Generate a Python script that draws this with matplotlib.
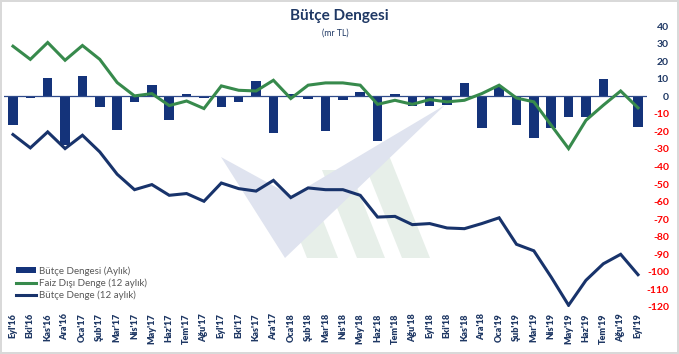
import matplotlib.pyplot as plt
from matplotlib.patches import Polygon, Patch
from matplotlib.lines import Line2D

months = ["Eyl'16", "Eki'16", "Kas'16", "Ara'16", "Oca'17", "Şub'17", "Mar'17", "Nis'17",
          "May'17", "Haz'17", "Tem'17", "Ağu'17", "Eyl'17", "Eki'17", "Kas'17", "Ara'17",
          "Oca'18", "Şub'18", "Mar'18", "Nis'18", "May'18", "Haz'18", "Tem'18", "Ağu'18",
          "Eyl'18", "Eki'18", "Kas'18", "Ara'18", "Oca'19", "Şub'19", "Mar'19", "Nis'19",
          "May'19", "Haz'19", "Tem'19", "Ağu'19", "Eyl'19"]

# monthly budget balance (bars)
aylik = [-16.5, -1, 10.3, -28, 11.6, -6.3, -19, -3, 6.3, -13.3, 1, -1, -6, -3.3, 8.5, -21,
         1, -1.6, -20, -2.3, 2.5, -25.5, 1, -5.3, -5.7, -5, 7.6, -17.8, 5, -16.5, -24, -18,
         -12, -12, 9.7, 0, -17.5]

# primary balance, 12 month rolling
faiz_disi = [28.5, 21, 30.6, 20.5, 28.9, 21, 7.8, 0.2, 1.5, -5.3, -2.7, -7, 5.9, 3.4, 3, 9.1,
             -1.3, 6.3, 7.6, 7.6, 6.3, -4.6, -2.3, -4.6, -1.9, -3.2, -2.3, 1.5, 6.3, -1, -3.2,
             -16.5, -29.8, -13.7, -5.1, 3, -6.6]

# budget balance, 12 month rolling
butce_12 = [-21.8, -29.4, -20.3, -29.8, -22.2, -31.7, -44.4, -53.2, -50.3, -56.4, -55.4, -59.8,
            -49.4, -52.6, -54, -47.9, -57.7, -52.2, -53.2, -53.2, -56.4, -68.8, -68.4, -73.1,
            -72.5, -75, -75.4, -72.5, -69.2, -84.3, -88, -103, -119, -104.8, -95.4, -90, -101.6]

yticks = list(range(-120, 41, 10))

navy_bar = '#14337a'
navy_line = '#18336b'
green = '#378a4c'
title_col = '#1f3864'

plt.rcParams['font.family'] = ['Lato', 'DejaVu Sans']

W, H = 679, 354
fig = plt.figure(figsize=(W / 100, H / 100), dpi=100)
fig.patch.set_edgecolor('#d9d9d9')
fig.patch.set_linewidth(1.5)


def px(x, y):
    return (x / W, 1 - y / H)


# faint logo watermark in the background
for pts in [[(307, 258), (338, 258), (315, 200), (284, 200)],
            [(357, 258), (385, 258), (350, 170), (322, 170)],
            [(402, 258), (430, 258), (390, 158), (362, 158)]]:
    fig.patches.append(Polygon([px(*p) for p in pts], closed=True, transform=fig.transFigure,
                               facecolor='#e7efe9', edgecolor='none', zorder=-2))
fig.patches.append(Polygon([px(*p) for p in [(221, 157), (285, 258), (445, 105), (292, 196)]],
                           closed=True, transform=fig.transFigure,
                           facecolor='#dfe3ef', edgecolor='none', zorder=-1))

ax = fig.add_axes([4.3 / W, 47 / H, (646.7 - 4.3) / W, (307 - 26) / H])
ax.set_zorder(2)
ax.patch.set_alpha(0)
x = list(range(len(months)))

ax.bar(x, aylik, width=0.55, color=navy_bar, zorder=2)
ax.axhline(0, color='#2f4a8a', lw=0.9, zorder=3)
ax.plot(x, faiz_disi, color=green, lw=2.2, zorder=4, solid_joinstyle='miter')
ax.plot(x, butce_12, color=navy_line, lw=2.2, zorder=4, solid_joinstyle='miter')

ax.set_xlim(-0.5, len(months) - 0.5)
ax.set_ylim(-120, 40)
for s in ax.spines.values():
    s.set_visible(False)

ax.set_xticks(x)
ax.set_xticklabels(months, rotation=90, fontsize=6.5, fontweight='heavy', color=title_col)
ax.tick_params(axis='x', length=0, pad=4.5)

ax.yaxis.tick_right()
ax.set_yticks(yticks)
ax.set_yticklabels([str(v) for v in yticks], fontsize=7.5, fontweight='bold')
ax.tick_params(axis='y', length=0, pad=16)
for lab, v in zip(ax.get_yticklabels(), yticks):
    lab.set_horizontalalignment('right')
    lab.set_color('#ff0000' if v < 0 else title_col)

fig.text(339 / W, 1 - 16 / H, 'Bütçe Dengesi', ha='center', va='center',
         fontsize=11, fontweight='bold', color=title_col)
fig.text(335 / W, 1 - 33 / H, '(mr TL)', ha='center', va='center',
         fontsize=6.3, color=title_col)

handles = [Patch(facecolor=navy_bar, edgecolor='none'),
           Line2D([], [], color=green, lw=2.2),
           Line2D([], [], color=navy_line, lw=2.2)]
labels = ['Bütçe Dengesi (Aylık)', 'Faiz Dışı Denge (12 aylık)', 'Bütçe Denge (12 aylık)']
leg = fig.legend(handles, labels, loc='upper left', bbox_to_anchor=px(16, 266),
                 frameon=False, fontsize=7, handlelength=2.1, handleheight=0.45,
                 handletextpad=0.3, labelspacing=0.3, borderpad=0, borderaxespad=0)
for t in leg.get_texts():
    t.set_color('#595959')

fig.savefig('out.png', dpi=100)
